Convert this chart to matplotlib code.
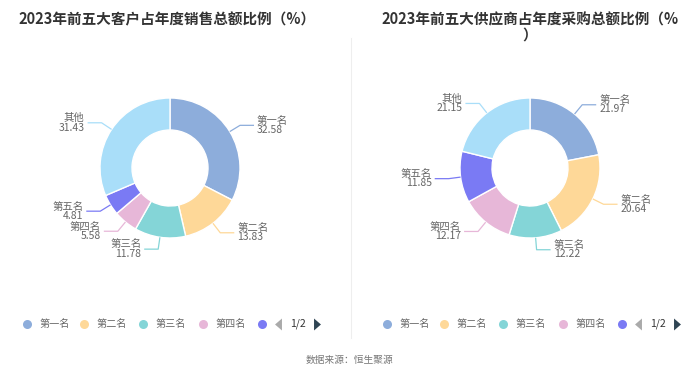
import numpy as np
import matplotlib.pyplot as plt

plt.rcParams['font.family'] = ['Noto Sans CJK SC', 'DejaVu Sans']

# data
names = ['第一名', '第二名', '第三名', '第四名', '第五名', '其他']
customer_pct = [32.58, 13.83, 11.78, 5.58, 4.81, 31.43]
supplier_pct = [21.97, 20.64, 12.22, 12.17, 11.85, 21.15]
titles = ['2023年前五大客户占年度销售总额比例（%）',
          '2023年前五大供应商占年度采购总额比例（%\n）']
colors = ['#8DADDB', '#FED898', '#84D5D7', '#E7B7D8', '#7A7AF4', '#A9DEF9']
source = '数据来源：恒生聚源'

W, H = 700, 377
fig = plt.figure(figsize=(W / 100, H / 100), dpi=100)
ax = fig.add_axes([0, 0, 1, 1])


def Y(y):
    # image y (top-down) -> data y
    return H - y


R_OUT, R_IN = 70, 38
centers = [(170, 168), (530, 168)]
title_x = [167, 530]

for (cx, cy), vals, title, tx in zip(centers, [customer_pct, supplier_pct], titles, title_x):
    ax.pie(vals, colors=colors, startangle=90, counterclock=False,
           center=(cx, Y(cy)), radius=R_OUT,
           wedgeprops=dict(width=R_OUT - R_IN, edgecolor='white', linewidth=1))

    # leader lines + labels
    cum = np.cumsum([0] + vals[:-1])
    for name, v, c0, col in zip(names, vals, cum, colors):
        ang = np.deg2rad(90 - (c0 + v / 2) * 3.6)
        x0, y0 = cx + R_OUT * np.cos(ang), Y(cy) + R_OUT * np.sin(ang)
        x1, y1 = cx + (R_OUT + 12) * np.cos(ang), Y(cy) + (R_OUT + 12) * np.sin(ang)
        side = 1 if np.cos(ang) >= 0 else -1
        x2 = x1 + side * 14
        ax.plot([x0, x1, x2], [y0, y1, y1], color=col, lw=0.9, solid_capstyle='butt')
        ax.text(x2 + side * 3, y1, f'{name}\n{v:.2f}', ha='left' if side > 0 else 'right',
                va='center', fontsize=7.5, color='#666666', linespacing=0.92)

    ax.text(tx, Y(11), title, ha='center', va='top', fontsize=10.5, fontweight='bold',
            color='#333333', linespacing=1.0)

# divider
ax.plot([351, 351], [Y(38), Y(338)], color='#eeeeee', lw=0.8)

# legends (page 1 of 2)
left_tri = [(-0.58, 0), (0.58, 1), (0.58, -1), (-0.58, 0)]
right_tri = [(0.58, 0), (-0.58, 1), (-0.58, -1), (0.58, 0)]
for off in [0, 360]:
    xs = [27, 84, 143, 203]
    for i in range(4):
        ax.plot(xs[i] + off, Y(324), 'o', ms=6.5, color=colors[i], mec='none')
        ax.text(xs[i] + off + 13, Y(324), names[i], ha='left', va='center',
                fontsize=7.3, color='#666666')
    ax.plot(262 + off, Y(324), 'o', ms=6.5, color=colors[4], mec='none')
    ax.plot(278 + off, Y(324), marker=left_tri, ms=8.6, color='#aaaaaa', mec='none')
    ax.text(298 + off, Y(324), '1/2', ha='center', va='center', fontsize=7.5, color='#333333')
    ax.plot(317 + off, Y(324), marker=right_tri, ms=8.6, color='#2f4554', mec='none')

ax.text(350, Y(360), source, ha='center', va='center', fontsize=7, color='#777777')

ax.set_xlim(0, W)
ax.set_ylim(0, H)
ax.set_aspect('auto')
ax.axis('off')

fig.savefig('out.png', dpi=100, facecolor='white')
